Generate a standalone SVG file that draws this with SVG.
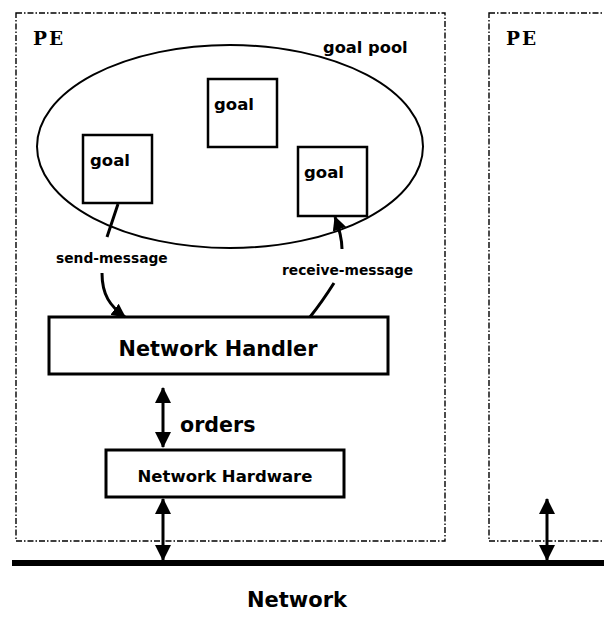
<svg xmlns="http://www.w3.org/2000/svg" width="604" height="619" viewBox="0 0 604 619">
<style>
.pe{fill:none;stroke:#000;stroke-width:1.4;stroke-dasharray:6 2 1.5 2}
.box{fill:#fff;stroke:#000;stroke-width:3}
.gbox{fill:#fff;stroke:#000;stroke-width:2.5}
.t{font-family:"DejaVu Sans",Verdana,sans-serif;font-weight:bold;fill:#000}
.s{font-family:"DejaVu Serif","Liberation Serif",serif;font-weight:bold;fill:#000}
.ln{fill:none;stroke:#000;stroke-width:3}
</style>
<defs>
<marker id="ah" viewBox="0 0 16 16" refX="15" refY="8" markerWidth="16" markerHeight="16" markerUnits="userSpaceOnUse" orient="auto-start-reverse">
<path d="M0,0 L16,8 L0,16 z" fill="#000"/>
</marker>
<marker id="ahs" viewBox="0 0 14 14" refX="13" refY="7" markerWidth="14" markerHeight="14" markerUnits="userSpaceOnUse" orient="auto">
<path d="M0,0 L14,7 L0,14 z" fill="#000"/>
</marker>
</defs>
<rect width="604" height="619" fill="#fff"/>
<g id="pe-left">
<rect class="pe" x="16" y="13" width="429" height="528"/>
<text class="s" x="33" y="45" font-size="18.5" letter-spacing="2">PE</text>
</g>
<g id="pe-right">
<rect class="pe" x="489" y="13" width="130" height="528"/>
<text class="s" x="506" y="45" font-size="18.5" letter-spacing="2">PE</text>
</g>
<g id="goal-pool">
<ellipse cx="230" cy="146.5" rx="193" ry="101.5" fill="none" stroke="#000" stroke-width="2"/>
<text class="t" x="323" y="53" font-size="16.3">goal pool</text>
</g>
<g id="goal-mid">
<rect class="gbox" x="208" y="79" width="69" height="68"/>
<text class="t" x="214" y="110" font-size="16.5">goal</text>
</g>
<g id="goal-left">
<rect class="gbox" x="83" y="135" width="69" height="68"/>
<text class="t" x="90" y="166" font-size="16.5">goal</text>
</g>
<g id="goal-right">
<rect class="gbox" x="298" y="147" width="69" height="69"/>
<text class="t" x="304" y="178" font-size="16.5">goal</text>
</g>
<g id="network-handler">
<rect class="box" x="49" y="317" width="339" height="57"/>
<text class="t" x="218" y="356" font-size="20.8" text-anchor="middle">Network Handler</text>
</g>
<g id="network-hardware">
<rect class="box" x="106" y="450" width="238" height="47"/>
<text class="t" x="225" y="482" font-size="16.5" text-anchor="middle">Network Hardware</text>
</g>
<g id="network">
<rect x="12" y="560" width="592" height="6" fill="#000"/>
<text class="t" x="297" y="607" font-size="21" text-anchor="middle">Network</text>
</g>
<g id="connectors">
<line class="ln" x1="118" y1="204" x2="107" y2="237"/>
<text class="t" x="56" y="263" font-size="13.8">send-message</text>
<path class="ln" d="M102,273 C102,295 110,306 125,317" marker-end="url(#ahs)"/>
<path class="ln" d="M310,317 Q322,302 334,283"/>
<text class="t" x="282" y="275" font-size="13.8">receive-message</text>
<path class="ln" d="M342,249 C342,237 339,228 335,217" marker-end="url(#ahs)"/>
<line class="ln" x1="163" y1="388" x2="163" y2="447" marker-start="url(#ah)" marker-end="url(#ah)"/>
<text class="t" x="180" y="432" font-size="20.6">orders</text>
<line class="ln" x1="163" y1="499" x2="163" y2="560" marker-start="url(#ah)" marker-end="url(#ah)"/>
<line class="ln" x1="547" y1="499" x2="547" y2="560" marker-start="url(#ah)" marker-end="url(#ah)"/>
</g>
</svg>
